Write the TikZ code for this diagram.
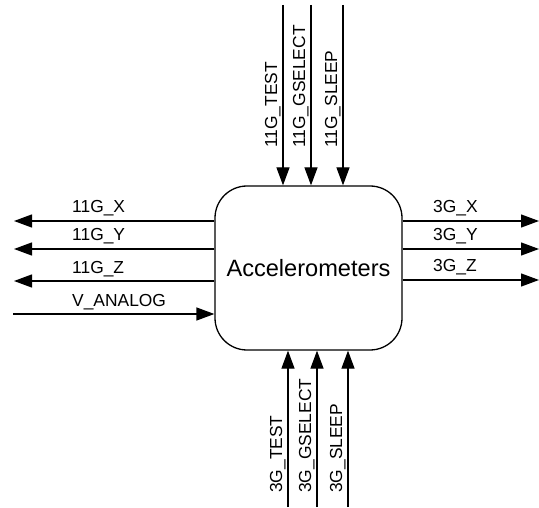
\documentclass[tikz,border=0pt]{standalone}
\usepackage{fontspec}
\setmainfont{Liberation Sans}
\usetikzlibrary{arrows.meta,positioning}

\begin{document}
\begin{tikzpicture}[x=1pt,y=-1pt,
    every node/.style={font=\fontsize{17.4}{20}\selectfont},
    sig/.style={line width=1.3pt,-{Triangle[length=18pt,width=13pt]}},
    siglab/.style={inner sep=0pt,anchor=base west},
    accbox/.style={draw,line width=1.3pt,rounded corners=32pt,minimum width=187pt,
      minimum height=164pt,font=\fontsize{23.6}{28}\selectfont}]
  \useasboundingbox (0,0) rectangle (539,508);
  % block
  \node[accbox] (acc) at (308.5,268) {Accelerometers};
  % inputs from above
  \foreach \x/\lab in {283/11G\_TEST, 311/11G\_GSELECT, 343/11G\_SLEEP} {
     \coordinate (top\x) at (\x,5);
     \draw[sig] (top\x) -- (top\x |- acc.north);
     \node[siglab,rotate=90] (toplab\x) at (\x-6,148) {\lab};
  }
  % inputs from below
  \foreach \x/\lab in {288/3G\_TEST, 317/3G\_GSELECT, 348/3G\_SLEEP} {
     \coordinate (bot\x) at (\x,507);
     \draw[sig] (bot\x) -- (bot\x |- acc.south);
     \node[siglab,rotate=90] (botlab\x) at (\x-6,493) {\lab};
  }
  % outputs to the left
  \foreach \y/\lab in {221/11G\_X, 249/11G\_Y, 281/11G\_Z} {
     \coordinate (left\y) at (14,\y);
     \draw[sig] (acc.west |- left\y) -- (left\y);
     \node[siglab] (leftlab\y) at (72,\y-8) {\lab};
  }
  % supply in
  \coordinate (vin) at (13,314);
  \draw[sig] (vin) -- (vin -| acc.west);
  \node[siglab] (vinlab) at (72,306) {V\_ANALOG};
  % outputs to the right
  \foreach \y/\lab in {221/3G\_X, 249/3G\_Y, 280/3G\_Z} {
     \coordinate (right\y) at (539,\y);
     \draw[sig] (acc.east |- right\y) -- (right\y);
     \node[siglab] (rightlab\y) at (433,\y-8) {\lab};
  }
\end{tikzpicture}
\end{document}
